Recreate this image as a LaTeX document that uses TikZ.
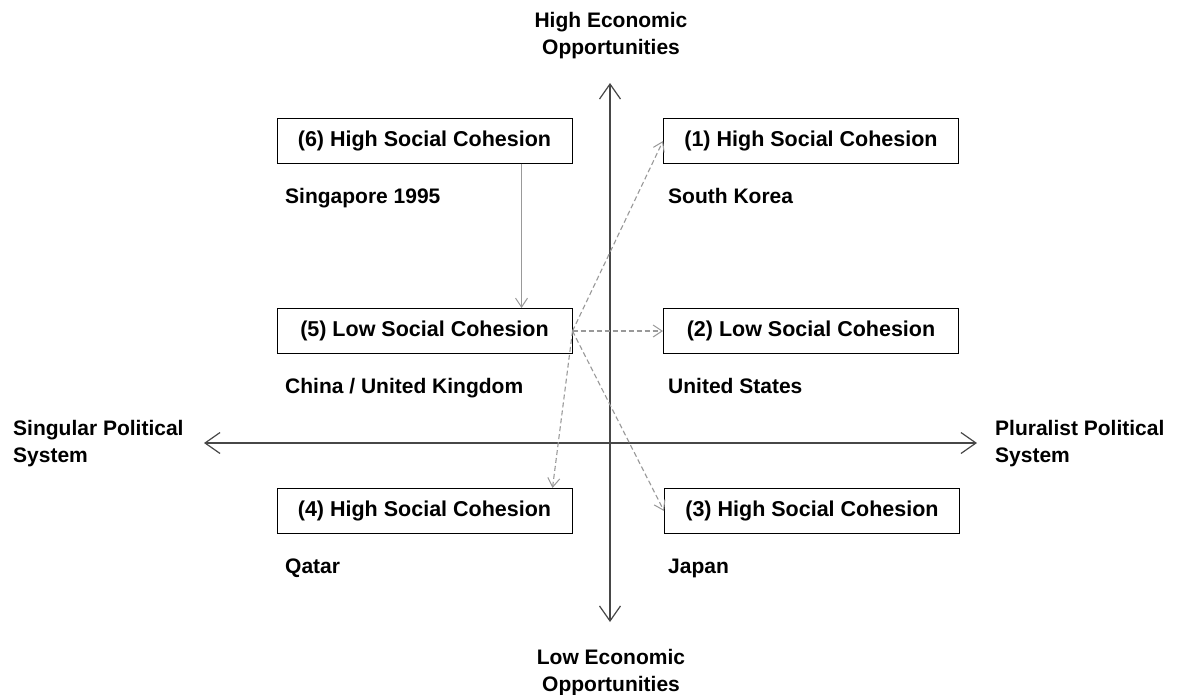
\documentclass[tikz,border=0pt]{standalone}
\usepackage{fontspec}
\setmainfont{Liberation Sans}
\usetikzlibrary{arrows.meta}
\begin{document}
\begin{tikzpicture}[x=1pt,y=-1pt,
  box/.style={draw=black,line width=1pt,minimum width=295pt,minimum height=45pt,inner sep=0pt,font=\fontsize{21.5}{25}\selectfont\bfseries},
  lbl/.style={anchor=base west,inner sep=0pt,font=\fontsize{21}{25}\selectfont\bfseries},
  axlbl/.style={inner sep=0pt,align=center,font=\fontsize{21}{26.5}\selectfont\bfseries},
  axis/.style={draw=black!72,line width=1.4pt,-{Straight Barb[length=15pt,width=21pt,line width=1.2pt]}},
  garrow/.style={draw=black!40,line width=1.1pt,-{Straight Barb[length=9pt,width=12pt,line width=1pt]}},
  darrow/.style={garrow,dash pattern=on 5pt off 3pt}]
\useasboundingbox (0,0) rectangle (1181,694);
\fill[white] (0,0) rectangle (1181,694);
% axes
\coordinate (top) at (610,83);
\coordinate (bot) at (610,622);
\coordinate (lft) at (204,443);
\coordinate (rgt) at (977,443);
\coordinate (ctr) at (610,443);
\draw[axis] (ctr) -- (top);
\draw[axis] (ctr) -- (bot);
\draw[axis] (ctr) -- (lft);
\draw[axis] (ctr) -- (rgt);
% axis labels (base = baseline of last line)
\node[axlbl,anchor=base] (hi) at (611,54) {High Economic\\Opportunities};
\node[axlbl,anchor=base] (lo) at (611,691) {Low Economic\\Opportunities};
\node[axlbl,anchor=base west,align=left] (sing) at (13,462) {Singular Political\\System};
\node[axlbl,anchor=base west,align=left] (plur) at (995,462) {Pluralist Political\\System};
% boxes
\node[box] (b6) at (424.5,140.5) {(6) High Social Cohesion};
\node[box] (b1) at (811,141) {(1) High Social Cohesion};
\node[box] (b5) at (424.5,331) {(5) Low Social Cohesion};
\node[box] (b2) at (811,331) {(2) Low Social Cohesion};
\node[box] (b4) at (424.5,511) {(4) High Social Cohesion};
\node[box] (b3) at (812,511) {(3) High Social Cohesion};
% labels
\node[lbl] (l6) at (285,203) {Singapore 1995};
\node[lbl] (l1) at (668,203) {South Korea};
\node[lbl] (l5) at (285,393) {China / United Kingdom};
\node[lbl] (l2) at (668,393) {United States};
\node[lbl] (l4) at (285,573) {Qatar};
\node[lbl] (l3) at (668,573) {Japan};
% connectors
\draw[garrow] ([xshift=245pt]b6.south west) -- ([xshift=245pt]b5.north west);
\draw[darrow] (b5.east) -- (b1.west);
\draw[darrow] (b5.east) -- (b2.west);
\draw[darrow] (b5.east) -- ([xshift=276pt]b4.north west);
\draw[darrow] (b5.east) -- (b3.west);
\end{tikzpicture}
\end{document}
